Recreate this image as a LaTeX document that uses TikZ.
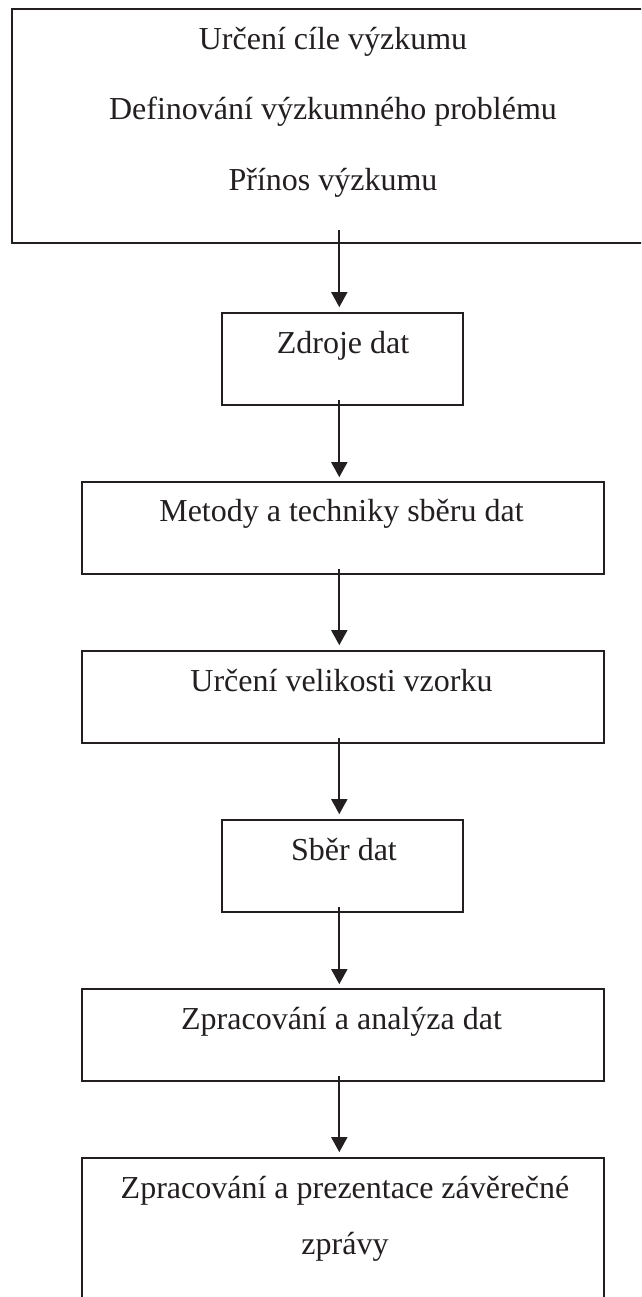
\documentclass[tikz,border=0pt]{standalone}
\usepackage{fontspec}
\setmainfont{Liberation Serif}
\usetikzlibrary{arrows.meta}
\definecolor{ink}{HTML}{231F20}
\tikzset{
  box/.style={draw=ink, line width=1.7pt, inner sep=0pt, minimum width=#1},
  lbl/.style={text=ink, anchor=base, inner sep=0pt, font=\fontsize{32}{38}\selectfont},
  arr/.style={draw=ink, line width=1.8pt, -{Triangle[length=15pt,width=16pt]}}
}
\begin{document}
\begin{tikzpicture}[x=1pt,y=-1pt]
\clip (0,0) rectangle (641,1297);
\coordinate (ax) at (339.3,0);
\node[box=656.3pt, minimum height=234pt] (b1) at (339.85,126.3) {};
\node[box=241pt, minimum height=92pt] (b2) at (342.5,359) {};
\node[box=522pt, minimum height=92pt] (b3) at (343,528) {};
\node[box=522pt, minimum height=92pt] (b4) at (343,697) {};
\node[box=241pt, minimum height=92pt] (b5) at (342.5,866) {};
\node[box=522pt, minimum height=92pt] (b6) at (343,1035) {};
\node[box=522pt, minimum height=162pt] (b7) at (343,1239) {};
\node[lbl] (t1a) at (333,49.3) {Určení cíle výzkumu};
\node[lbl] (t1b) at (333,120) {Definování výzkumného problému};
\node[lbl] (t1c) at (333,190.7) {Přínos výzkumu};
\node[lbl] (t2) at (343,353) {Zdroje dat};
\node[lbl] (t3) at (341.5,521.7) {Metody a techniky sběru dat};
\node[lbl] (t4) at (341.5,691) {Určení velikosti vzorku};
\node[lbl] (t5) at (344,860) {Sběr dat};
\node[lbl] (t6) at (341.5,1029) {Zpracování a analýza dat};
\node[lbl] (t7a) at (345,1198) {Zpracování a prezentace závěrečné};
\node[lbl] (t7b) at (345,1254) {zprávy};
\draw[arr] ([yshift=14pt]b1.south -| ax) -- ([yshift=5pt]b2.north -| ax);
\draw[arr] ([yshift=6pt]b2.south -| ax) -- ([yshift=4pt]b3.north -| ax);
\draw[arr] ([yshift=6pt]b3.south -| ax) -- ([yshift=5pt]b4.north -| ax);
\draw[arr] ([yshift=6pt]b4.south -| ax) -- ([yshift=5pt]b5.north -| ax);
\draw[arr] ([yshift=6pt]b5.south -| ax) -- ([yshift=4pt]b6.north -| ax);
\draw[arr] ([yshift=6pt]b6.south -| ax) -- ([yshift=5pt]b7.north -| ax);
\end{tikzpicture}
\end{document}
